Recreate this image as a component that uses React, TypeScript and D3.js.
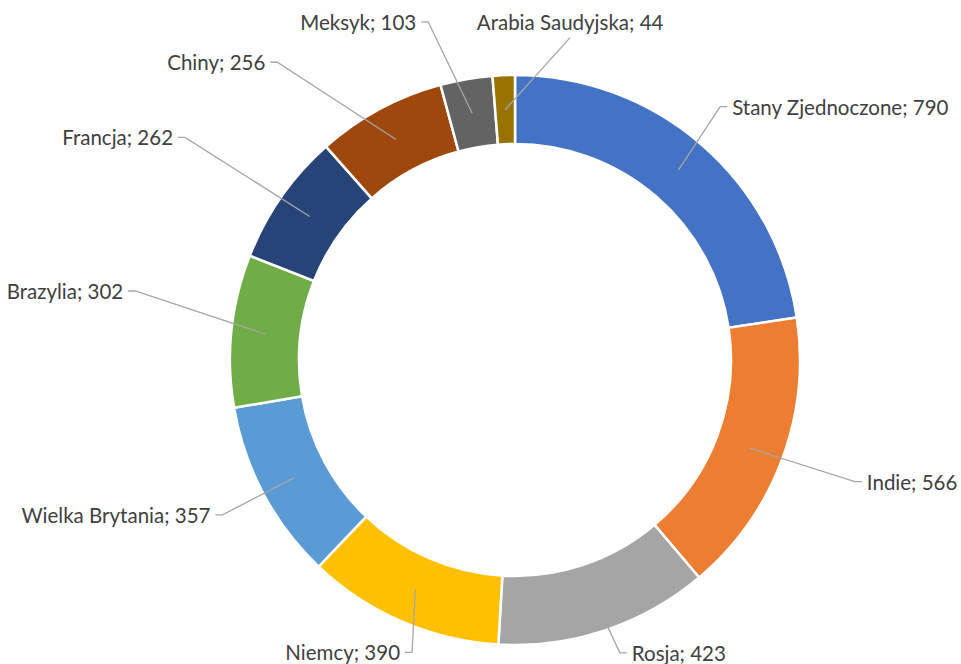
import React from "react";
import * as d3 from "d3";

const countries = [
  "Stany Zjednoczone",
  "Indie",
  "Rosja",
  "Niemcy",
  "Wielka Brytania",
  "Brazylia",
  "Francja",
  "Chiny",
  "Meksyk",
  "Arabia Saudyjska",
];
const values = [790, 566, 423, 390, 357, 302, 262, 256, 103, 44];
const colors = [
  "#4472C4", "#ED7D31", "#A5A5A5", "#FFC000", "#5B9BD5",
  "#70AD47", "#264478", "#9E480E", "#636363", "#997300",
];

// where each leader line bends (polar: degrees clockwise from 12 o'clock, radius)
const labelAngle = [39, 109.7, 160.3, 199.4, 242.1, 280.3, 304, 321.4, 345.6, 9.7];
const labelRadius = [326, 361, 311, 310, 331, 386, 398, 381, 349, 327];
const labelSide = ["start", "start", "start", "end", "end", "end", "end", "end", "end", "middle"];

const W = 961;
const H = 664;
const cx = 515;
const cy = 360;
const outerR = 285;
const innerR = 216;

export default function App() {
  const pie = d3.pie<number>().sort(null).value((d) => d);
  const arcs = pie(values);
  const arc = d3.arc<d3.PieArcDatum<number>>().innerRadius(innerR).outerRadius(outerR);
  const mid = d3.arc<d3.PieArcDatum<number>>()
    .innerRadius((innerR + outerR) / 2)
    .outerRadius((innerR + outerR) / 2);

  const polar = (deg: number, r: number): [number, number] => {
    const a = (deg * Math.PI) / 180;
    return [r * Math.sin(a), -r * Math.cos(a)];
  };

  return (
    <div style={{ position: "fixed", left: 0, top: 0 }}>
      <svg width={W} height={H} style={{ display: "block", background: "#fff" }}>
        <g transform={`translate(${cx},${cy})`}>
          {arcs.map((d, i) => (
            <path key={i} d={arc(d) ?? ""} fill={colors[i]} stroke="#fff" strokeWidth={2.5} />
          ))}
          {arcs.map((d, i) => {
            const [sx, sy] = mid.centroid(d);
            const [ex, ey] = polar(labelAngle[i], labelRadius[i]);
            const side = labelSide[i];
            const dir = side === "start" ? 1 : side === "end" ? -1 : 0;
            const hx = ex + dir * 7;
            const pts = dir === 0 ? `${sx},${sy} ${ex},${ey}` : `${sx},${sy} ${ex},${ey} ${hx},${ey}`;
            const tx = dir === 0 ? ex : hx + dir * 5;
            const ty = dir === 0 ? ey - 16 : ey;
            return (
              <g key={"l" + i}>
                <polyline points={pts} fill="none" stroke="#A6A6A6" strokeWidth={1.3} />
                <text
                  x={tx}
                  y={ty}
                  textAnchor={side}
                  dominantBaseline="central"
                  fontFamily="Lato, 'Open Sans', sans-serif"
                  fontSize={20.5}
                  fill="#404040"
                >
                  {`${countries[i]}; ${values[i]}`}
                </text>
              </g>
            );
          })}
        </g>
      </svg>
    </div>
  );
}
